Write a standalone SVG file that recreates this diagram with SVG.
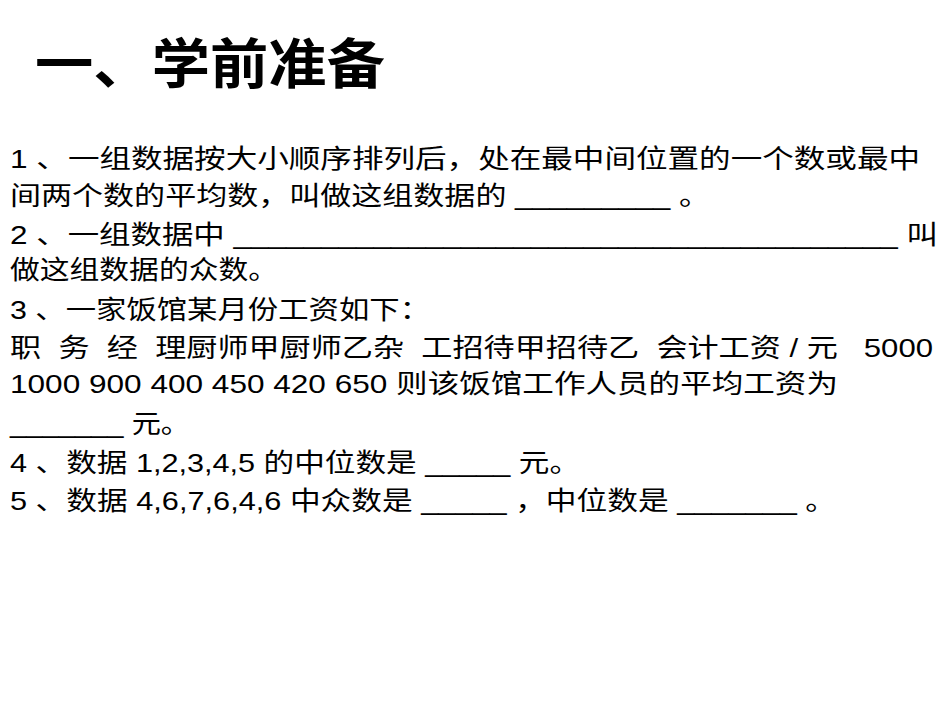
<svg xmlns="http://www.w3.org/2000/svg" width="950" height="713" viewBox="0 0 950 713">
<style>
.t{font-family:"Liberation Sans","Noto Sans CJK SC",sans-serif;font-size:26px;fill:#000}
.h{font-family:"Liberation Sans","Noto Sans CJK SC",sans-serif;font-size:54px;font-weight:bold;fill:#000}
</style>
<rect width="950" height="713" fill="#fff"/>
<g id="title"><text class="h" x="35" y="84" textLength="350" lengthAdjust="spacingAndGlyphs">一、学前准备</text></g>
<g id="body">
<text class="t" x="10" y="168" textLength="910" lengthAdjust="spacingAndGlyphs">1 、一组数据按大小顺序排列后，处在最中间位置的一个数或最中</text>
<text class="t" x="10" y="205" textLength="700" lengthAdjust="spacingAndGlyphs">间两个数的平均数，叫做这组数据的 _________ 。</text>
<text class="t" x="10" y="244" textLength="928" lengthAdjust="spacingAndGlyphs">2 、一组数据中 ______________________________________ 叫</text>
<text class="t" x="10" y="279" textLength="268" lengthAdjust="spacingAndGlyphs">做这组数据的众数。</text>
<text class="t" x="10" y="319" textLength="420" lengthAdjust="spacingAndGlyphs">3 、一家饭馆某月份工资如下：</text>
<text class="t" x="10" y="357" textLength="923" lengthAdjust="spacingAndGlyphs" xml:space="preserve">职  务  经  理厨师甲厨师乙杂  工招待甲招待乙  会计工资 / 元   5000</text>
<text class="t" x="10" y="393" textLength="828" lengthAdjust="spacingAndGlyphs">1000 900 400 450 420 650 则该饭馆工作人员的平均工资为</text>
<text class="t" x="10" y="433" textLength="180" lengthAdjust="spacingAndGlyphs">_______ 元。</text>
<text class="t" x="10" y="472" textLength="570" lengthAdjust="spacingAndGlyphs">4 、数据 1,2,3,4,5 的中位数是 _____ 元。</text>
<text class="t" x="10" y="510" textLength="826" lengthAdjust="spacingAndGlyphs">5 、数据 4,6,7,6,4,6 中众数是 _____ ，中位数是 _______ 。</text>
</g>
</svg>
